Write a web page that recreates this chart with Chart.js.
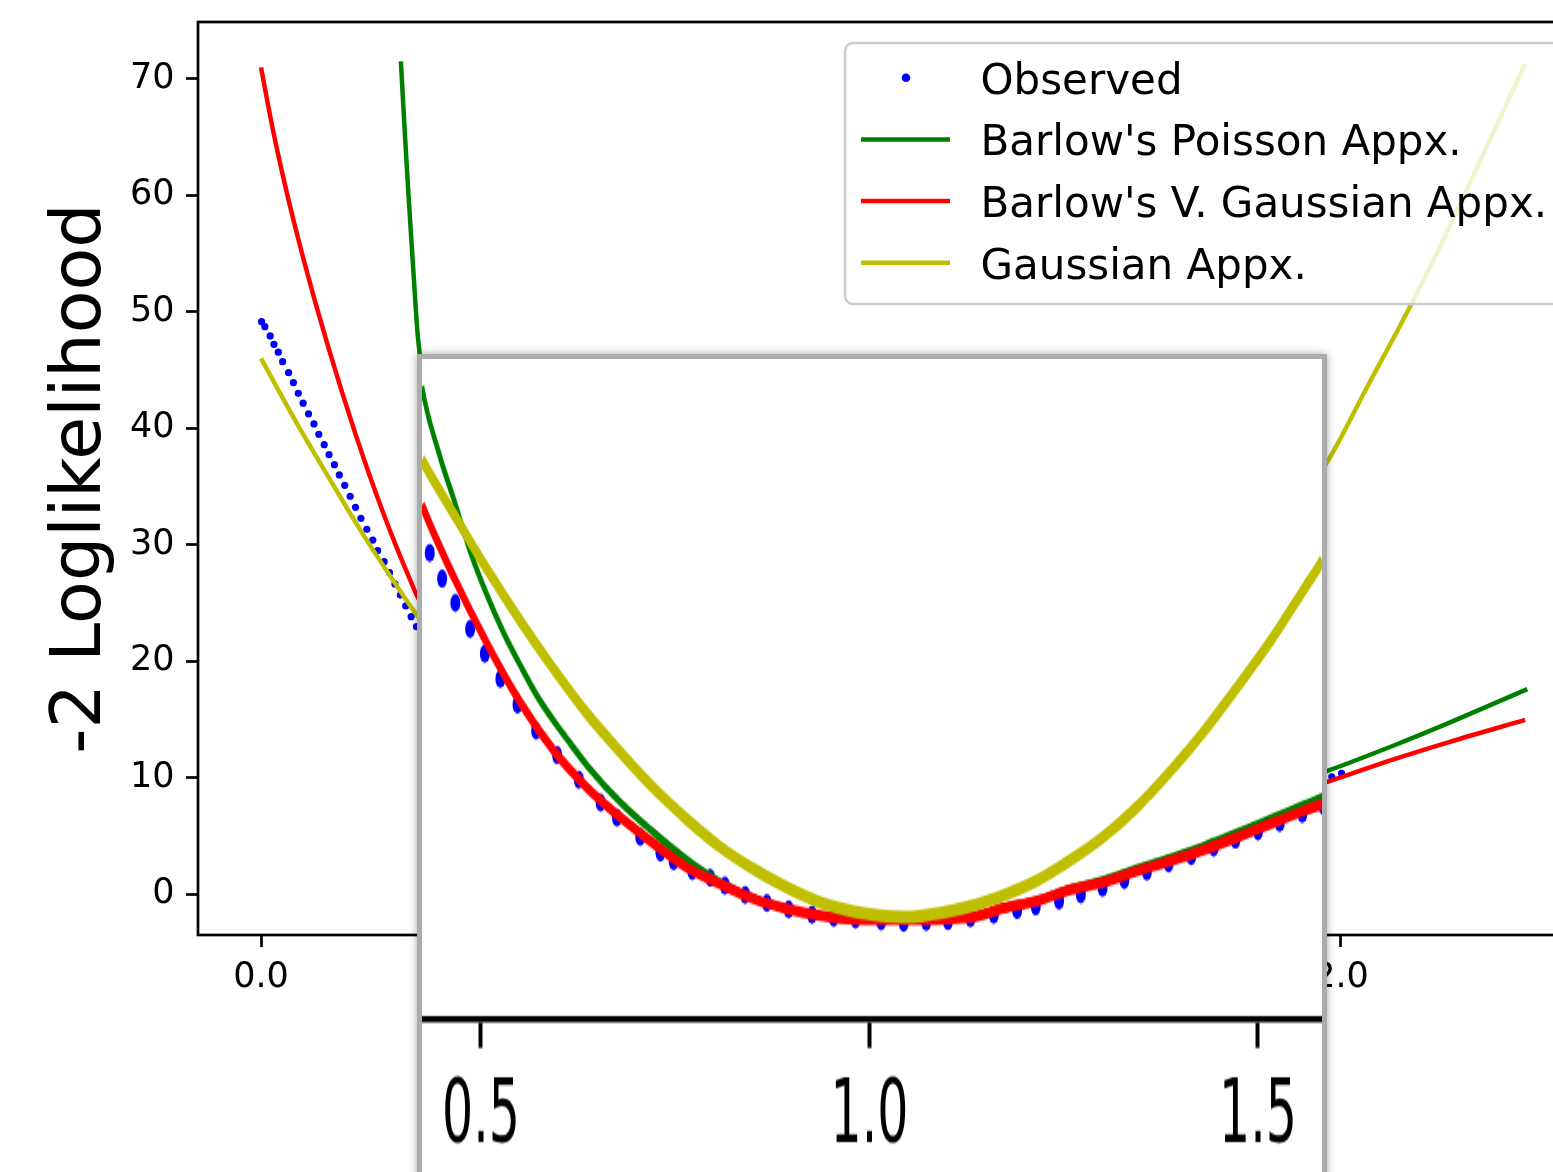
<!DOCTYPE html>
<html>
<head>
<meta charset="utf-8">
<title>-2 Loglikelihood</title>
<script src="https://cdn.jsdelivr.net/npm/chart.js@4.4.1/dist/chart.umd.min.js"></script>
<style>
  html, body { margin: 0; padding: 0; background: #fff; }
  body { position: relative; width: 1553px; height: 1172px; overflow: hidden; }
  #mainChart { position: absolute; left: 0; top: 0; }
  #inset {
    position: absolute; left: 417px; top: 354px; width: 900px; height: 840px;
    border: 5px solid #ababab; border-bottom: none; background: #fff; overflow: hidden;
    box-shadow: 0 0 8px rgba(0, 0, 0, 0.35);
  }
  #insetChart { position: absolute; left: 0; top: 0; transform: scaleY(1.8); transform-origin: 0 0; }
</style>
</head>
<body>
<canvas id="mainChart" width="1640" height="1172"></canvas>
<div id="inset"><canvas id="insetChart" width="900" height="460"></canvas></div>
<script>
var seriesLabels = ['Observed', "Barlow's Poisson Appx.", "Barlow's V. Gaussian Appx.", 'Gaussian Appx.'];

// observed -2 log likelihood (dots)
var obsX = [0.001, 0.007, 0.017, 0.024, 0.032, 0.040, 0.051, 0.060, 0.069, 0.078, 0.088, 0.098, 0.107, 0.117, 0.126,
  0.136, 0.145, 0.155, 0.165, 0.175, 0.185, 0.196, 0.207, 0.216, 0.228, 0.238, 0.248, 0.258, 0.268, 0.278, 0.288,
  0.434, 0.450, 0.467, 0.486, 0.505, 0.525, 0.547, 0.571, 0.598, 0.626, 0.654, 0.675, 0.705, 0.731, 0.748,
  0.772, 0.795, 0.814, 0.840, 0.868, 0.896, 0.926, 0.954, 0.982, 1.015, 1.044, 1.073, 1.101, 1.130, 1.160,
  1.190, 1.214, 1.244, 1.272, 1.300, 1.328, 1.357, 1.385, 1.414, 1.443, 1.471, 1.500, 1.528, 1.557, 1.584,
  1.983, 2.001];
var obsY = [49.15, 48.72, 47.93, 47.21, 46.53, 45.72, 44.77, 43.92, 43.00, 42.15, 41.23, 40.37, 39.48, 38.59, 37.73,
  36.87, 35.99, 35.10, 34.16, 33.21, 32.27, 31.32, 30.40, 29.49, 28.54, 27.60, 26.63, 25.68, 24.74, 23.82, 22.96,
  13.00, 12.08, 11.22, 10.29, 9.40, 8.51, 7.59, 6.66, 5.78, 4.90, 4.08, 3.55, 2.86, 2.30, 2.00,
  1.64, 1.40, 1.12, 0.79, 0.50, 0.27, 0.09, -0.03, -0.10, -0.16, -0.21, -0.17, -0.15, -0.05, 0.08,
  0.25, 0.38, 0.58, 0.80, 1.05, 1.32, 1.62, 1.92, 2.17, 2.48, 2.76, 3.05, 3.36, 3.69, 3.97,
  10.07, 10.37];

// Barlow's Poisson approximation
var poissonX = [0.259, 0.267, 0.273, 0.282, 0.291, 0.424, 0.448, 0.465, 0.486, 0.508, 0.529, 0.551, 0.572, 0.594,
  0.615, 0.637, 0.680, 0.722, 0.765, 0.808, 0.851, 0.894, 0.937, 0.980, 1.044, 1.130, 1.173, 1.216, 1.259,
  1.302, 1.345, 1.387, 1.430, 1.473, 1.516, 1.559, 1.583, 1.976, 2.100, 2.200, 2.345];
var poissonY = [71.5, 64.8, 60.1, 53.6, 47.6, 18.95, 16.37, 14.92, 13.07, 11.48, 10.16, 8.97, 7.91, 6.99,
  6.20, 5.40, 4.08, 3.03, 2.05, 1.25, 0.68, 0.31, 0.07, -0.06, -0.06, 0.01, 0.35, 0.62, 1.03,
  1.33, 1.76, 2.13, 2.55, 3.02, 3.52, 4.02, 4.30, 10.59, 12.8, 14.7, 17.6];

// Barlow's V. Gaussian approximation
var vgaussX = [0, 0.02, 0.04, 0.06, 0.08, 0.10, 0.125, 0.15, 0.175, 0.20, 0.225, 0.25, 0.275, 0.29,
  0.424, 0.465, 0.508, 0.551, 0.594, 0.637, 0.680, 0.722, 0.765, 0.808, 0.851, 0.894, 0.937, 0.980, 1.044,
  1.130, 1.173, 1.216, 1.259, 1.302, 1.345, 1.387, 1.430, 1.473, 1.516, 1.559, 1.583, 1.976, 2.100, 2.200, 2.341];
var vgaussY = [71.0, 66.1, 61.8, 57.9, 54.3, 50.9, 46.9, 43.1, 39.5, 36.1, 32.9, 29.9, 27.1, 25.5,
  14.72, 12.14, 9.76, 7.65, 5.93, 4.61, 3.55, 2.63, 1.77, 1.18, 0.65, 0.29, 0.05, -0.08, -0.10,
  -0.01, 0.32, 0.58, 0.98, 1.25, 1.65, 2.00, 2.40, 2.85, 3.33, 3.80, 4.04, 9.65, 11.6, 13.05, 14.95];

// Gaussian approximation
var gaussX = [0, 0.063, 0.125, 0.186, 0.248, 0.288, 0.424, 0.465, 0.508, 0.551, 0.594, 0.637, 0.680, 0.722,
  0.765, 0.808, 0.851, 0.894, 0.937, 0.980, 1.044, 1.130, 1.173, 1.216, 1.259, 1.302, 1.345, 1.387, 1.430,
  1.473, 1.516, 1.559, 1.583, 1.973, 2.048, 2.134, 2.202, 2.270, 2.341];
var gaussY = [46.0, 40.7, 35.8, 31.1, 26.7, 24.0, 16.33, 14.39, 12.41, 10.56, 8.84, 7.25, 5.87, 4.61,
  3.49, 2.50, 1.71, 1.05, 0.52, 0.19, 0.00, 0.39, 0.78, 1.31, 2.04, 2.89, 3.95, 5.20, 6.62,
  8.20, 9.85, 11.70, 12.75, 37.0, 43.5, 51.0, 57.4, 64.2, 71.3];

var mainXTicks = [0, 0.5, 1.0, 1.5, 2.0];
var mainYTicks = [0, 10, 20, 30, 40, 50, 60, 70];
var insetXTicks = [0.5, 1.0, 1.5];

var colors = { obs: '#0000ff', poisson: '#008000', vgauss: '#ff0000', gauss: '#bfbf00' };

Chart.defaults.font.family = '"DejaVu Sans", sans-serif';
Chart.defaults.color = '#000';

function points(xs, ys) {
  return xs.map(function(x, i) { return { x: x, y: ys[i] }; });
}

function makeDatasets(w) {
  return [
    { label: seriesLabels[0], data: points(obsX, obsY), showLine: false, pointRadius: w.dot,
      pointBackgroundColor: colors.obs, pointBorderWidth: 0, order: 3 },
    { label: seriesLabels[1], data: points(poissonX, poissonY), showLine: true, borderColor: colors.poisson,
      borderWidth: w.poisson, pointRadius: 0, cubicInterpolationMode: 'monotone', order: 2 },
    { label: seriesLabels[2], data: points(vgaussX, vgaussY), showLine: true, borderColor: colors.vgauss,
      borderWidth: w.vgauss, pointRadius: 0, cubicInterpolationMode: 'monotone', order: 1 },
    { label: seriesLabels[3], data: points(gaussX, gaussY), showLine: true, borderColor: colors.gauss,
      borderWidth: w.gauss, pointRadius: 0, cubicInterpolationMode: 'monotone', order: 0 }
  ];
}

function fixedTicks(list) {
  return function(scale) { scale.ticks = list.map(function(v) { return { value: v }; }); };
}

// pin an axis to a fixed thickness and drop the label overflow padding
function fixedSize(prop, size) {
  return function(scale) {
    scale[prop] = size;
    scale.paddingTop = 0; scale.paddingBottom = 0;
    scale.paddingLeft = 0; scale.paddingRight = 0;
  };
}

// axes frame, drawn over the curves like matplotlib does
var framePlugin = {
  id: 'frame',
  afterDatasetsDraw: function(chart) {
    var a = chart.chartArea, ctx = chart.ctx;
    ctx.save();
    ctx.strokeStyle = '#000';
    ctx.lineWidth = 2.7;
    ctx.strokeRect(a.left, a.top, a.right - a.left, a.bottom - a.top);
    ctx.restore();
  }
};

var legendPlugin = {
  id: 'boxLegend',
  afterDatasetsDraw: function(chart) {
    var ctx = chart.ctx;
    var x0 = 845, y0 = 43, rowH = 61.7, firstRow = 77.7;
    ctx.save();
    ctx.beginPath();
    ctx.roundRect(x0, y0, 760, 261, 8);
    ctx.fillStyle = 'rgba(255,255,255,0.8)';
    ctx.fill();
    ctx.lineWidth = 2.5;
    ctx.strokeStyle = '#cccccc';
    ctx.stroke();
    chart.data.datasets.forEach(function(ds, i) {
      var y = firstRow + i * rowH;
      if (ds.showLine) {
        ctx.beginPath();
        ctx.moveTo(861, y);
        ctx.lineTo(950, y);
        ctx.strokeStyle = ds.borderColor;
        ctx.lineWidth = 4.5;
        ctx.stroke();
      } else {
        ctx.beginPath();
        ctx.arc(906, y, 4.3, 0, Math.PI * 2);
        ctx.fillStyle = ds.pointBackgroundColor;
        ctx.fill();
      }
      ctx.fillStyle = '#000';
      ctx.font = '42px "DejaVu Sans"';
      ctx.textBaseline = 'alphabetic';
      ctx.textAlign = 'left';
      ctx.fillText(ds.label, 980.5, y + 16);
    });
    ctx.restore();
  }
};

new Chart(document.getElementById('mainChart'), {
  type: 'scatter',
  data: { datasets: makeDatasets({ dot: 3.6, poisson: 4.5, vgauss: 4.5, gauss: 4.5 }) },
  options: {
    responsive: false,
    animation: false,
    events: [],
    layout: { autoPadding: false, padding: { top: 22, right: 49, left: 0, bottom: 0 } },
    plugins: { legend: { display: false }, tooltip: { enabled: false } },
    scales: {
      x: {
        type: 'linear', min: -0.1167, max: 2.463,
        afterBuildTicks: fixedTicks(mainXTicks),
        afterFit: fixedSize('height', 237),
        ticks: { font: { size: 35 }, padding: 10, maxRotation: 0,
          callback: function(v) { return Number(v).toFixed(1); } },
        grid: { drawOnChartArea: false, drawTicks: true, tickLength: 12, tickWidth: 2.7, tickColor: '#000' },
        border: { display: false }
      },
      y: {
        type: 'linear', min: -3.52, max: 74.89,
        afterBuildTicks: fixedTicks(mainYTicks),
        afterFit: fixedSize('width', 198),
        ticks: { font: { size: 35 }, padding: 11.5 },
        grid: { drawOnChartArea: false, drawTicks: true, tickLength: 12, tickWidth: 2.7, tickColor: '#000' },
        border: { display: false },
        title: { display: true, text: '-2 Loglikelihood', font: { size: 70 }, padding: { top: 40, bottom: 0 } }
      }
    }
  },
  plugins: [framePlugin, legendPlugin]
});

// zoomed inset, stretched vertically by the CSS transform
new Chart(document.getElementById('insetChart'), {
  type: 'scatter',
  data: { datasets: makeDatasets({ dot: 5, poisson: 4.5, vgauss: 6, gauss: 7 }) },
  options: {
    responsive: false,
    animation: false,
    events: [],
    layout: { autoPadding: false, padding: 0 },
    plugins: { legend: { display: false }, tooltip: { enabled: false } },
    scales: {
      x: {
        type: 'linear', min: 0.42407, max: 1.5824,
        afterBuildTicks: fixedTicks(insetXTicks),
        afterFit: fixedSize('height', 460 - 366.7),
        ticks: { font: { size: 49 }, padding: 10, maxRotation: 0,
          callback: function(v) { return Number(v).toFixed(1); } },
        grid: { drawOnChartArea: false, drawTicks: true, tickLength: 16, tickWidth: 4, tickColor: '#000' },
        border: { display: true, color: '#000', width: 3.6 }
      },
      y: { type: 'linear', display: false, min: -3.643, max: 19.93 }
    }
  }
});
</script>
</body>
</html>
